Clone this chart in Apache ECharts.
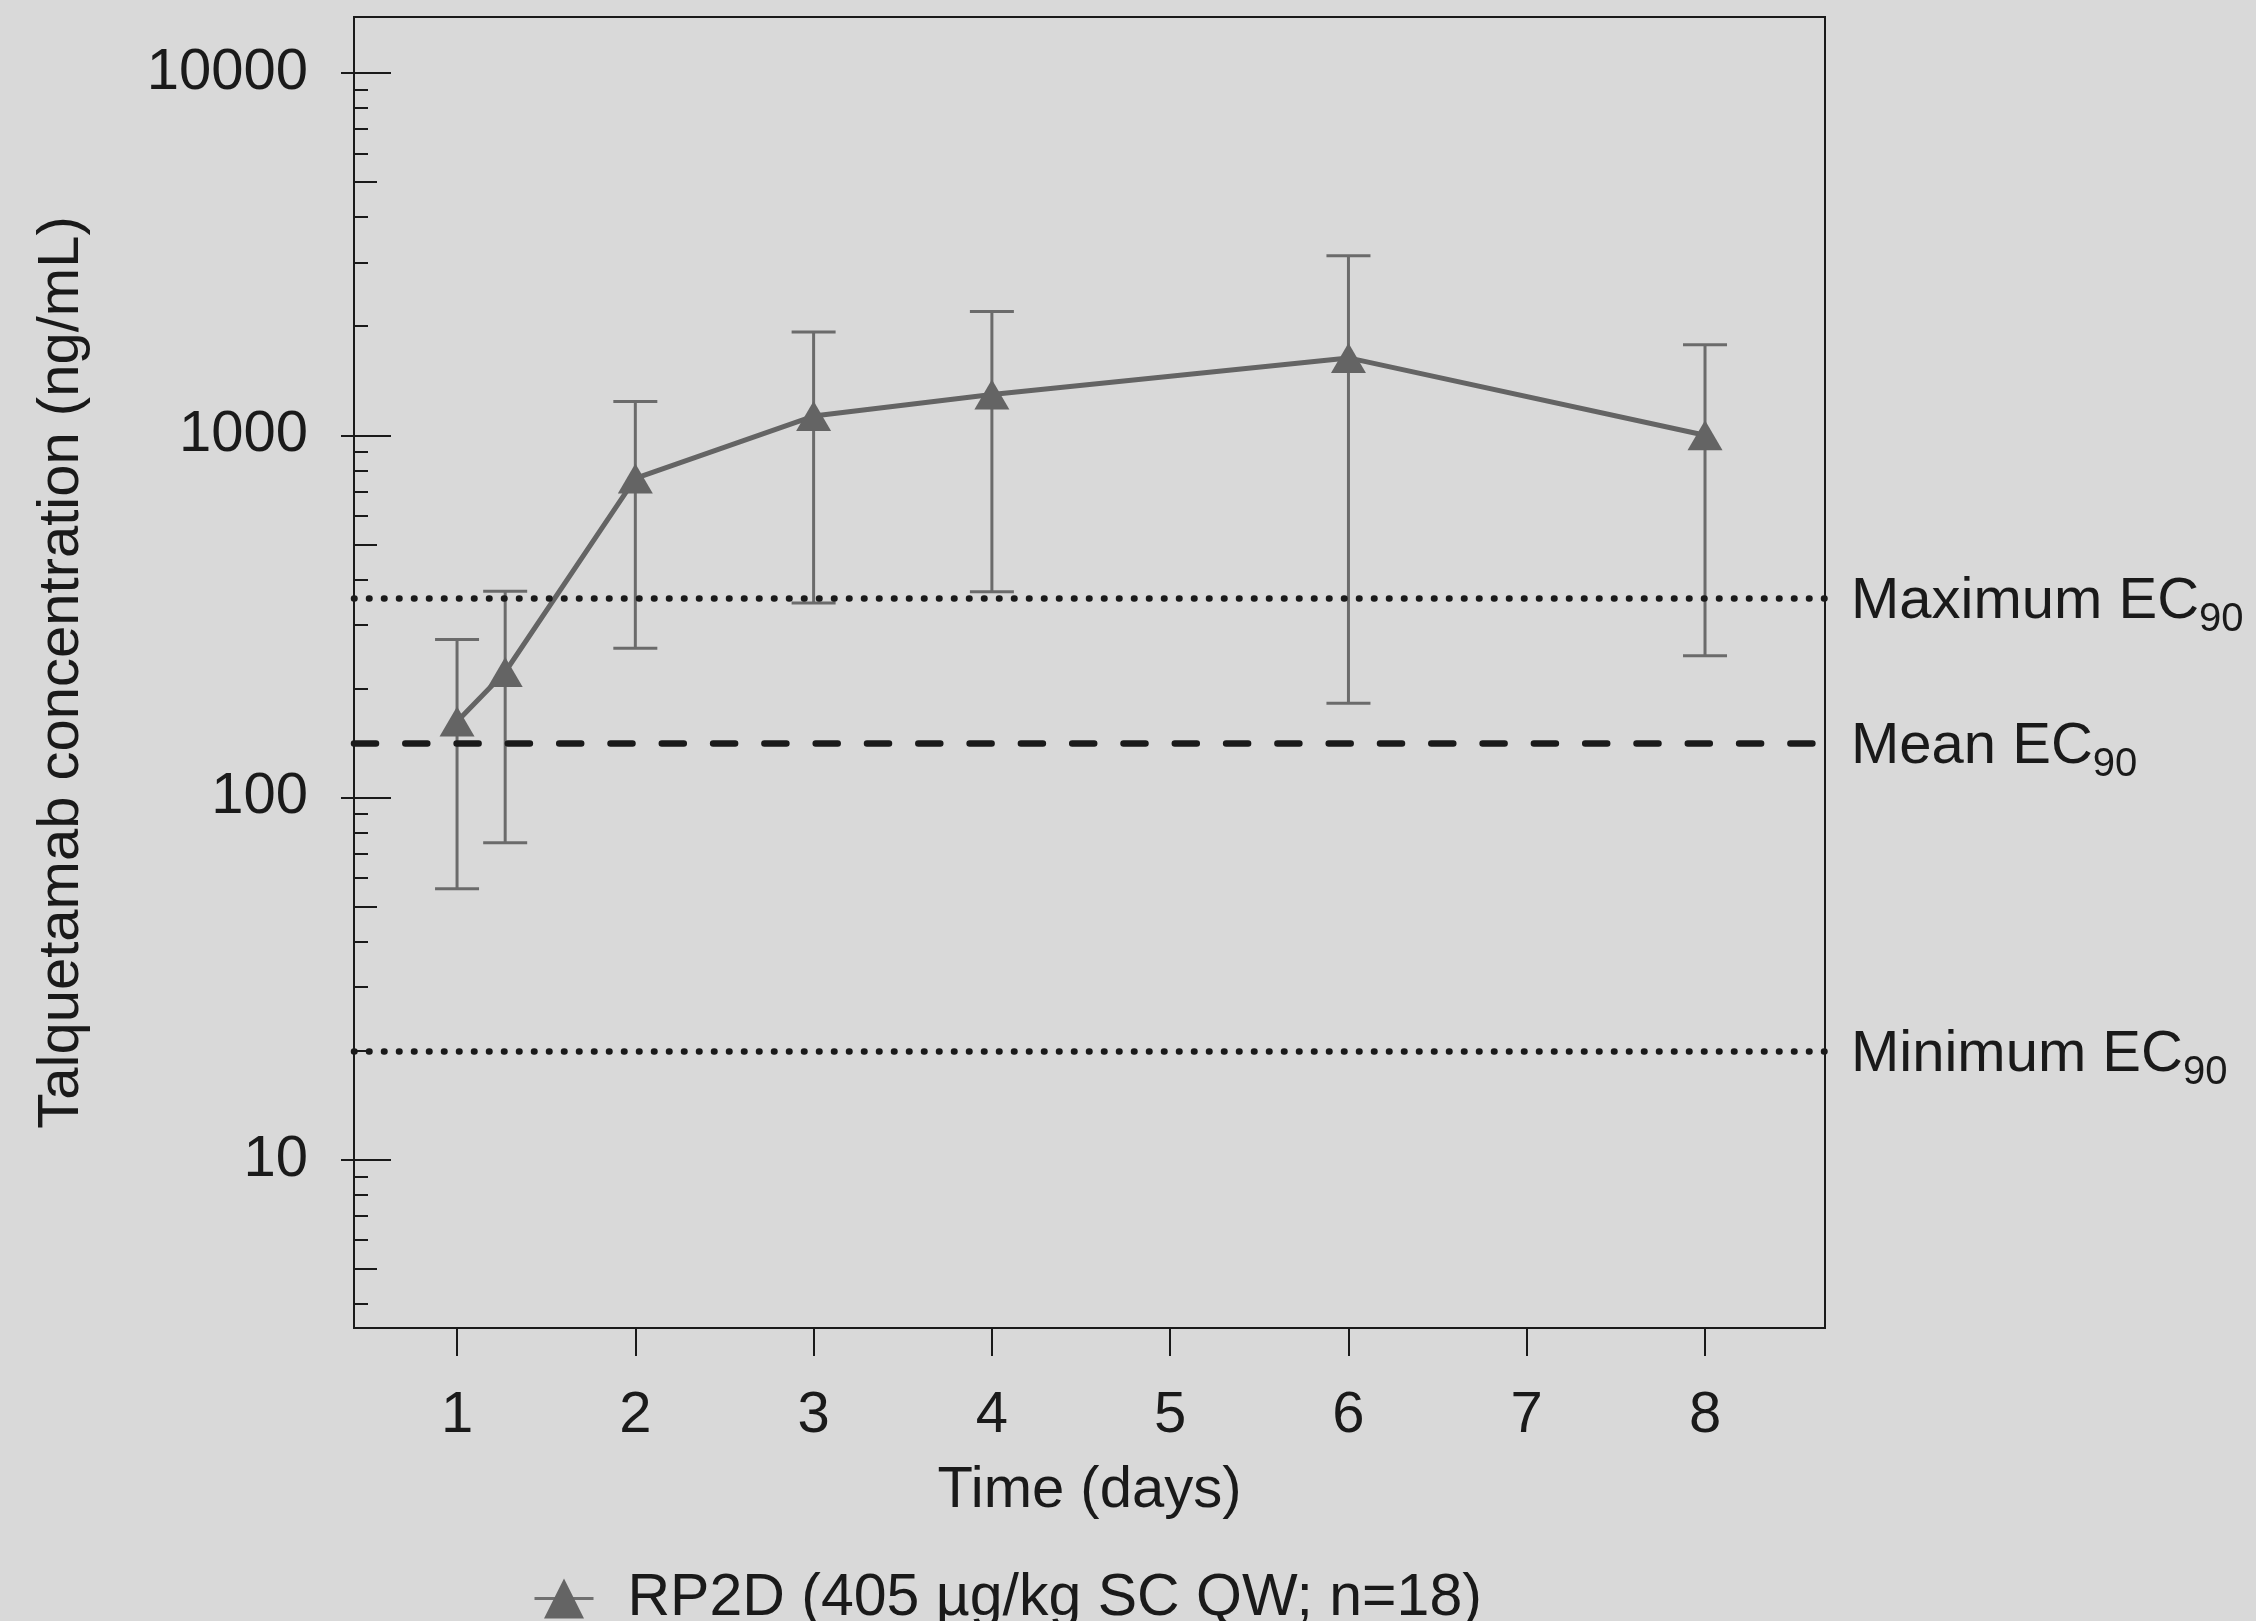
<!DOCTYPE html>
<html>
<head>
<meta charset="utf-8">
<title>Talquetamab concentration</title>
<script src="https://cdn.jsdelivr.net/npm/echarts@6/dist/echarts.min.js"></script>
<style>
  html, body { margin: 0; padding: 0; background: #d9d9d9; }
  #main { width: 2256px; height: 1621px; }
</style>
</head>
<body>
<div id="main"></div>
<script>
// 数据
var times = [1, 1.27, 2, 3, 4, 6, 8];
var meanConc = [162, 222, 760, 1130, 1295, 1635, 1000];
var lowConc = [56, 75, 258, 344, 370, 182, 246];
var highConc = [273, 371, 1240, 1928, 2196, 3130, 1777];

var ec90Names = ['Maximum EC', 'Mean EC', 'Minimum EC'];
var ec90Values = [351, 142, 20];

var xTicks = [1, 2, 3, 4, 5, 6, 7, 8];
var yMajor = [10, 100, 1000, 10000];
var yMid = [5, 50, 500, 5000];
var yMinor = [4, 6, 7, 8, 9, 20, 30, 40, 60, 70, 80, 90, 200, 300, 400, 600, 700, 800, 900,
  2000, 3000, 4000, 6000, 7000, 8000, 9000];

var seriesName = 'RP2D (405 µg/kg SC QW; n=18)';

var FONT = '"Liberation Sans", Arial, Helvetica, sans-serif';
var TXT = '#1a1a1a';
var GREY = '#646464';

// y 轴为 log10 刻度
var lg = function (v) { return Math.log10(v); };
var Y_MIN = lg(3.43);
var Y_MAX = lg(14280);

var linePts = times.map(function (t, i) { return [t, lg(meanConc[i])]; });
var errPts = times.map(function (t, i) { return [t, lg(lowConc[i]), lg(highConc[i])]; });

function yAxisBase () {
  return {
    type: 'value',
    position: 'left',
    min: Y_MIN,
    max: Y_MAX,
    axisLine: { show: false },
    splitLine: { show: false },
    axisLabel: { show: false }
  };
}

var yAxes = [];
var y0 = yAxisBase();
y0.axisTick = { show: true, inside: false, length: 13, customValues: yMajor.map(lg), lineStyle: { color: TXT, width: 2 } };
y0.axisLabel = {
  show: true,
  customValues: yMajor.map(lg),
  margin: 46,
  fontSize: 58,
  color: TXT,
  fontFamily: FONT,
  padding: [5, 0, 0, 0],
  formatter: function (v) { return String(Math.round(Math.pow(10, v))); }
};
y0.name = 'Talquetamab concentration (ng/mL)';
y0.nameLocation = 'middle';
y0.nameGap = 263;
y0.nameTextStyle = { fontSize: 58, color: TXT, fontFamily: FONT };
yAxes.push(y0);

var y1 = yAxisBase();
y1.axisTick = { show: true, inside: true, length: 37, customValues: yMajor.map(lg), lineStyle: { color: TXT, width: 2 } };
yAxes.push(y1);

var y2 = yAxisBase();
y2.axisTick = { show: true, inside: true, length: 23, customValues: yMid.map(lg), lineStyle: { color: TXT, width: 2 } };
yAxes.push(y2);

var y3 = yAxisBase();
y3.axisTick = { show: true, inside: true, length: 14, customValues: yMinor.map(lg), lineStyle: { color: TXT, width: 2 } };
yAxes.push(y3);

var ec90Styles = [
  { type: [0.5, 14.5], cap: 'round', width: 6.5, color: TXT },
  { type: [22, 29.3], cap: 'round', width: 6.5, color: TXT },
  { type: [0.5, 14.5], cap: 'round', width: 6.5, color: TXT }
];

var markData = ec90Values.map(function (v, i) {
  return {
    yAxis: lg(v),
    lineStyle: ec90Styles[i],
    label: { formatter: '{a|' + ec90Names[i] + '}{b|90}' }
  };
});

var myChart = echarts.init(document.getElementById('main'), null, { renderer: 'canvas' });

var option = {
  backgroundColor: '#d9d9d9',
  animation: false,
  textStyle: { fontFamily: FONT },
  grid: {
    show: true,
    left: 354,
    top: 17,
    right: 431,
    bottom: 293,
    borderColor: TXT,
    borderWidth: 2,
    backgroundColor: 'transparent'
  },
  legend: {
    data: [seriesName],
    left: 533,
    top: 1569,
    padding: 0,
    itemWidth: 59,
    itemHeight: 50,
    lineStyle: { width: 3, color: '#707070' },
    textStyle: { fontSize: 59, color: TXT, fontFamily: FONT, padding: [0, 0, 0, 29] }
  },
  xAxis: {
    type: 'value',
    min: 0.422,
    max: 8.673,
    axisLine: { show: false },
    splitLine: { show: false },
    axisTick: { show: true, length: 28, customValues: xTicks, lineStyle: { color: TXT, width: 2 } },
    axisLabel: { customValues: xTicks, margin: 59, fontSize: 58, color: TXT, fontFamily: FONT },
    name: 'Time (days)',
    nameLocation: 'middle',
    nameGap: 134,
    nameTextStyle: { fontSize: 58, color: TXT, fontFamily: FONT }
  },
  yAxis: yAxes,
  series: [
    {
      // 误差线
      type: 'custom',
      name: 'err',
      data: errPts,
      encode: { x: 0, y: [1, 2] },
      z: 2,
      silent: true,
      renderItem: function (params, api) {
        var lo = api.coord([api.value(0), api.value(1)]);
        var hi = api.coord([api.value(0), api.value(2)]);
        var half = 22;
        var st = { stroke: '#6b6b6b', lineWidth: 3, fill: null };
        return {
          type: 'group',
          children: [
            { type: 'line', shape: { x1: lo[0], y1: lo[1], x2: hi[0], y2: hi[1] }, style: st },
            { type: 'line', shape: { x1: lo[0] - half, y1: lo[1], x2: lo[0] + half, y2: lo[1] }, style: st },
            { type: 'line', shape: { x1: hi[0] - half, y1: hi[1], x2: hi[0] + half, y2: hi[1] }, style: st }
          ]
        };
      }
    },
    {
      name: seriesName,
      type: 'line',
      data: linePts,
      z: 3,
      symbol: 'triangle',
      symbolSize: [35, 30],
      lineStyle: { color: GREY, width: 5 },
      itemStyle: { color: GREY },
      markLine: {
        silent: true,
        symbol: 'none',
        z: 4,
        label: {
          show: true,
          position: 'end',
          distance: 26,
          rich: {
            a: { fontSize: 58, lineHeight: 58, color: TXT, fontFamily: FONT, verticalAlign: 'top', padding: [4, 0, 0, 0] },
            // 下标 90
            b: { fontSize: 40, lineHeight: 40, color: TXT, fontFamily: FONT, verticalAlign: 'top', padding: [31, 0, 0, 0] }
          }
        },
        data: markData
      }
    }
  ]
};

myChart.setOption(option);
</script>
</body>
</html>
